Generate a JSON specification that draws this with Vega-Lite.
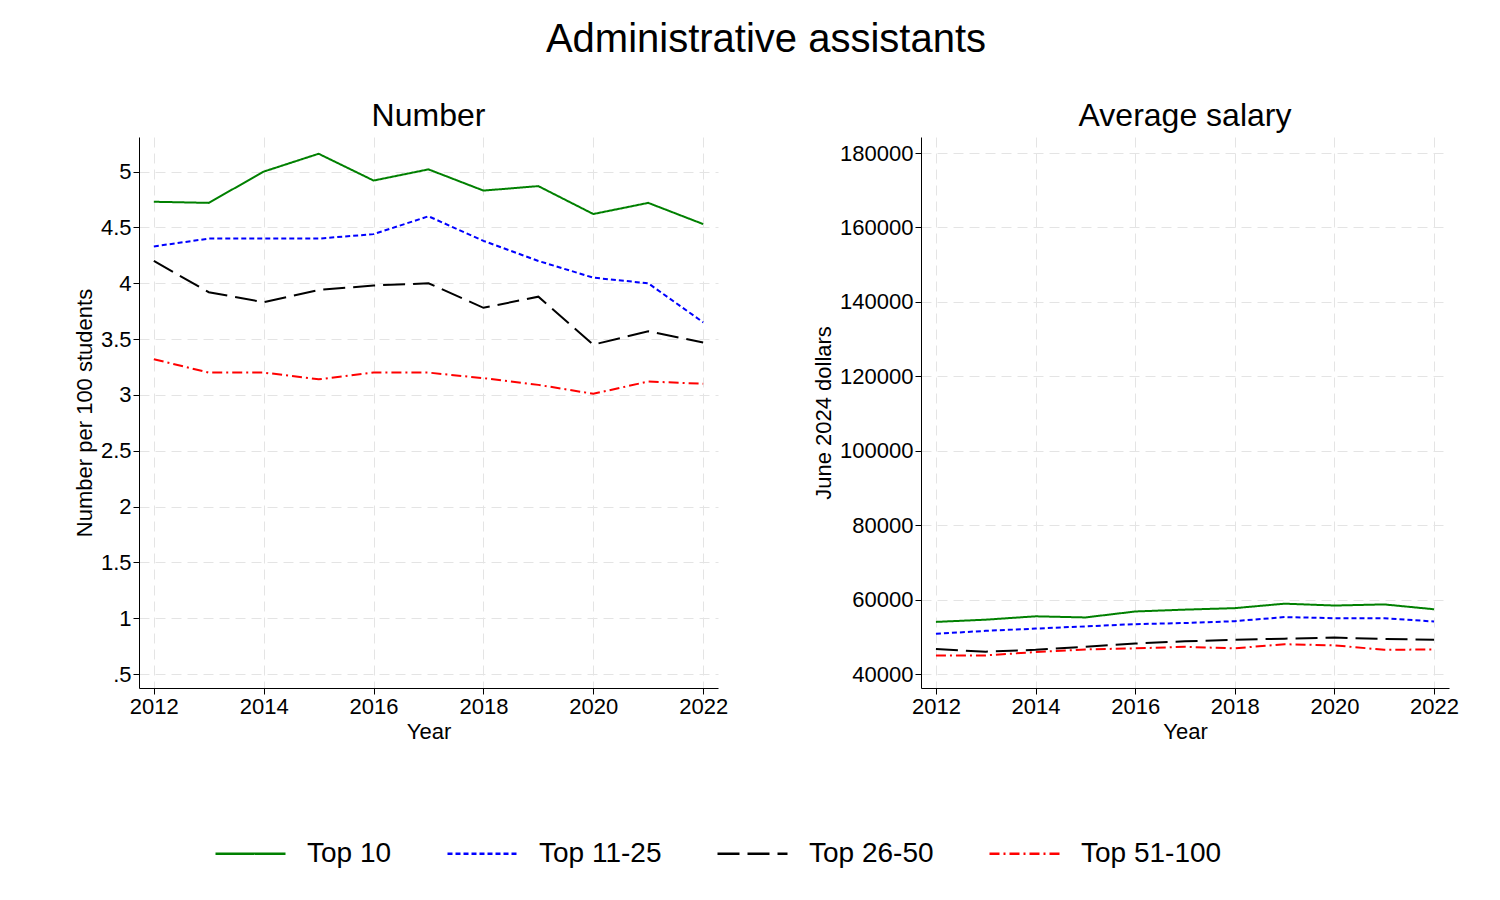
{
  "$schema": "https://vega.github.io/schema/vega-lite/v6.json",
  "padding": {"left": 73, "top": 20, "right": 5, "bottom": 5},
  "title": {"text": "Administrative assistants", "fontSize": 40, "fontWeight": "normal", "font": "Liberation Sans", "offset": 40, "anchor": "middle"},
  "config": {
    "font": "Liberation Sans",
    "view": {"stroke": null},
    "axis": {"labelFontSize": 22, "titleFontSize": 22, "titleFontWeight": "normal", "labelColor": "black", "titleColor": "black", "domainColor": "black", "tickColor": "black", "gridColor": "#e4e4e4", "gridDash": [10, 6], "tickSize": 6},
    "legend": {"orient": "none", "legendX": 75, "legendY": 680, "direction": "horizontal", "labelFontSize": 28, "symbolType": "stroke", "symbolSize": 4900, "symbolStrokeWidth": 2.5, "columnPadding": 50, "labelOffset": 20, "labelColor": "black"},
    "title": {"fontSize": 32, "fontWeight": "normal"}
  },
  "data": {"values": [
    {"year": 2012, "group": "Top 10", "n": 4.73, "s": 54000},
    {"year": 2013, "group": "Top 10", "n": 4.72, "s": 54600},
    {"year": 2014, "group": "Top 10", "n": 5.0, "s": 55500},
    {"year": 2015, "group": "Top 10", "n": 5.16, "s": 55200},
    {"year": 2016, "group": "Top 10", "n": 4.92, "s": 56800},
    {"year": 2017, "group": "Top 10", "n": 5.02, "s": 57300},
    {"year": 2018, "group": "Top 10", "n": 4.83, "s": 57700},
    {"year": 2019, "group": "Top 10", "n": 4.87, "s": 58900},
    {"year": 2020, "group": "Top 10", "n": 4.62, "s": 58400},
    {"year": 2021, "group": "Top 10", "n": 4.72, "s": 58700},
    {"year": 2022, "group": "Top 10", "n": 4.53, "s": 57400},
    {"year": 2012, "group": "Top 11-25", "n": 4.33, "s": 50800},
    {"year": 2013, "group": "Top 11-25", "n": 4.40, "s": 51600},
    {"year": 2014, "group": "Top 11-25", "n": 4.40, "s": 52200},
    {"year": 2015, "group": "Top 11-25", "n": 4.40, "s": 52800},
    {"year": 2016, "group": "Top 11-25", "n": 4.44, "s": 53400},
    {"year": 2017, "group": "Top 11-25", "n": 4.60, "s": 53700},
    {"year": 2018, "group": "Top 11-25", "n": 4.38, "s": 54200},
    {"year": 2019, "group": "Top 11-25", "n": 4.20, "s": 55300},
    {"year": 2020, "group": "Top 11-25", "n": 4.05, "s": 55000},
    {"year": 2021, "group": "Top 11-25", "n": 4.00, "s": 55000},
    {"year": 2022, "group": "Top 11-25", "n": 3.65, "s": 54100},
    {"year": 2012, "group": "Top 26-50", "n": 4.20, "s": 46700},
    {"year": 2013, "group": "Top 26-50", "n": 3.92, "s": 46000},
    {"year": 2014, "group": "Top 26-50", "n": 3.83, "s": 46500},
    {"year": 2015, "group": "Top 26-50", "n": 3.94, "s": 47300},
    {"year": 2016, "group": "Top 26-50", "n": 3.98, "s": 48200},
    {"year": 2017, "group": "Top 26-50", "n": 4.00, "s": 48800},
    {"year": 2018, "group": "Top 26-50", "n": 3.78, "s": 49200},
    {"year": 2019, "group": "Top 26-50", "n": 3.88, "s": 49500},
    {"year": 2020, "group": "Top 26-50", "n": 3.45, "s": 49800},
    {"year": 2021, "group": "Top 26-50", "n": 3.57, "s": 49400},
    {"year": 2022, "group": "Top 26-50", "n": 3.47, "s": 49200},
    {"year": 2012, "group": "Top 51-100", "n": 3.32, "s": 45000},
    {"year": 2013, "group": "Top 51-100", "n": 3.20, "s": 45000},
    {"year": 2014, "group": "Top 51-100", "n": 3.20, "s": 45900},
    {"year": 2015, "group": "Top 51-100", "n": 3.14, "s": 46600},
    {"year": 2016, "group": "Top 51-100", "n": 3.20, "s": 46900},
    {"year": 2017, "group": "Top 51-100", "n": 3.20, "s": 47300},
    {"year": 2018, "group": "Top 51-100", "n": 3.15, "s": 46900},
    {"year": 2019, "group": "Top 51-100", "n": 3.09, "s": 48000},
    {"year": 2020, "group": "Top 51-100", "n": 3.01, "s": 47700},
    {"year": 2021, "group": "Top 51-100", "n": 3.12, "s": 46500},
    {"year": 2022, "group": "Top 51-100", "n": 3.10, "s": 46600}
  ]},
  "spacing": 84,
  "hconcat": [
    {
      "title": "Number",
      "width": 579, "height": 551,
      "mark": {"type": "line", "strokeWidth": 2},
      "encoding": {
        "x": {"field": "year", "type": "quantitative", "title": "Year", "scale": {"domain": [2011.73, 2022.27], "nice": false, "zero": false}, "axis": {"values": [2012, 2014, 2016, 2018, 2020, 2022], "format": "d"}},
        "y": {"field": "n", "type": "quantitative", "title": "Number per 100 students", "scale": {"domain": [0.375, 5.31], "nice": false, "zero": false}, "axis": {"values": [0.5, 1, 1.5, 2, 2.5, 3, 3.5, 4, 4.5, 5], "labelExpr": "datum.value == 0.5 ? '.5' : format(datum.value, '~g')"}},
        "color": {"field": "group", "type": "nominal", "title": null, "scale": {"domain": ["Top 10", "Top 11-25", "Top 26-50", "Top 51-100"], "range": ["#008000", "#0000ff", "#000000", "#ff0000"]}},
        "strokeDash": {"field": "group", "type": "nominal", "title": null, "scale": {"domain": ["Top 10", "Top 11-25", "Top 26-50", "Top 51-100"], "range": [[1, 0], [5, 3], [22, 8], [10, 4, 2, 4]]}}
      }
    },
    {
      "title": "Average salary",
      "width": 528, "height": 551,
      "mark": {"type": "line", "strokeWidth": 2},
      "encoding": {
        "x": {"field": "year", "type": "quantitative", "title": "Year", "scale": {"domain": [2011.7, 2022.3], "nice": false, "zero": false}, "axis": {"values": [2012, 2014, 2016, 2018, 2020, 2022], "format": "d"}},
        "y": {"field": "s", "type": "quantitative", "title": "June 2024 dollars", "scale": {"domain": [36240, 184300], "nice": false, "zero": false}, "axis": {"values": [40000, 60000, 80000, 100000, 120000, 140000, 160000, 180000], "format": "d"}},
        "color": {"field": "group", "type": "nominal", "title": null},
        "strokeDash": {"field": "group", "type": "nominal", "title": null}
      }
    }
  ]
}
